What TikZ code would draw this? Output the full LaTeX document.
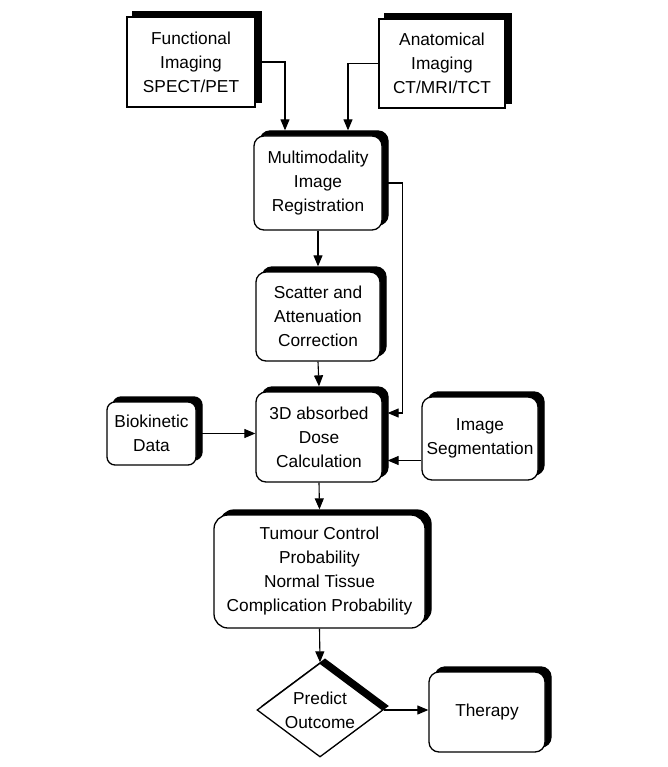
\documentclass[tikz,border=0pt]{standalone}
\usepackage{fontspec}
\setmainfont{Liberation Sans}
\usetikzlibrary{shapes.geometric,shadows,arrows.meta}
\begin{document}
\begin{tikzpicture}[x=1pt,y=-1pt,
  box/.style={draw=black, line width=1.3pt, fill=white, inner sep=0pt, align=center,
    font=\fontsize{17.3}{24}\selectfont},
  shad/.style={general shadow={fill=black, draw=black, shadow xshift=6pt, shadow yshift=5pt}},
  rbox/.style={box, shad, rounded corners=10pt},
  arr/.style={line width=1.1pt, -{Triangle[length=11pt,width=9pt]}},
]
\useasboundingbox[fill=white] (0,0) rectangle (667,767);

\node[box, shad, minimum width=128pt, minimum height=90pt] (func) at (191,62) {Functional\\Imaging\\SPECT/PET};
\node[box, shad, minimum width=126pt, minimum height=89pt] (anat) at (442,63.5) {Anatomical\\Imaging\\CT/MRI/TCT};
\node[rbox, minimum width=128pt, minimum height=94pt] (multi) at (318,183) {Multimodality\\Image\\Registration};
\node[rbox, minimum width=124pt, minimum height=89pt] (scat) at (318,316.5) {Scatter and\\Attenuation\\Correction};
\node[rbox, minimum width=126pt, minimum height=90pt] (dose) at (319,437) {3D absorbed\\Dose\\Calculation};
\node[rbox, rounded corners=8pt, minimum width=89pt, minimum height=63pt] (bio) at (151.5,433.5) {Biokinetic\\Data};
\node[rbox, minimum width=116pt, minimum height=83pt] (seg) at (480,438.5) {Image\\Segmentation};
\node[rbox, rounded corners=14pt, minimum width=211pt, minimum height=113pt] (tcp) at (319.5,571.5) {Tumour Control\\Probability\\Normal Tissue\\Complication Probability};
\node[box, diamond, aspect=1.34, minimum width=126pt, minimum height=94pt,
  general shadow={fill=black, draw=black, shadow xshift=5pt, shadow yshift=4pt}] (pred) at (320,710) {Predict\\Outcome};
\node[rbox, minimum width=116pt, minimum height=80pt] (ther) at (487,712) {Therapy};

\coordinate (segin) at ([yshift=-22pt]seg.west);

\draw[arr] (func.east) -| ([xshift=-33pt,yshift=5pt]multi.north);
\draw[arr] (anat.west) -| ([xshift=30pt,yshift=5pt]multi.north);
\draw[arr] (multi.east) -- ++(20,0) |- ([xshift=5pt,yshift=24pt]dose.east);
\draw[arr] (multi.south) -- ([yshift=5pt]scat.north);
\draw[arr] (scat.south) -- ([yshift=5pt]dose.north);
\draw[arr] (bio.east) -- (bio.east -| dose.west);
\draw[arr] (segin) -- ([xshift=5pt]segin -| dose.east);
\draw[arr] (dose.south) -- ([yshift=5pt]tcp.north);
\draw[arr] (tcp.south) -- (pred.north);
\draw[arr] (pred.east) -- (pred.east -| ther.west);
\end{tikzpicture}
\end{document}
